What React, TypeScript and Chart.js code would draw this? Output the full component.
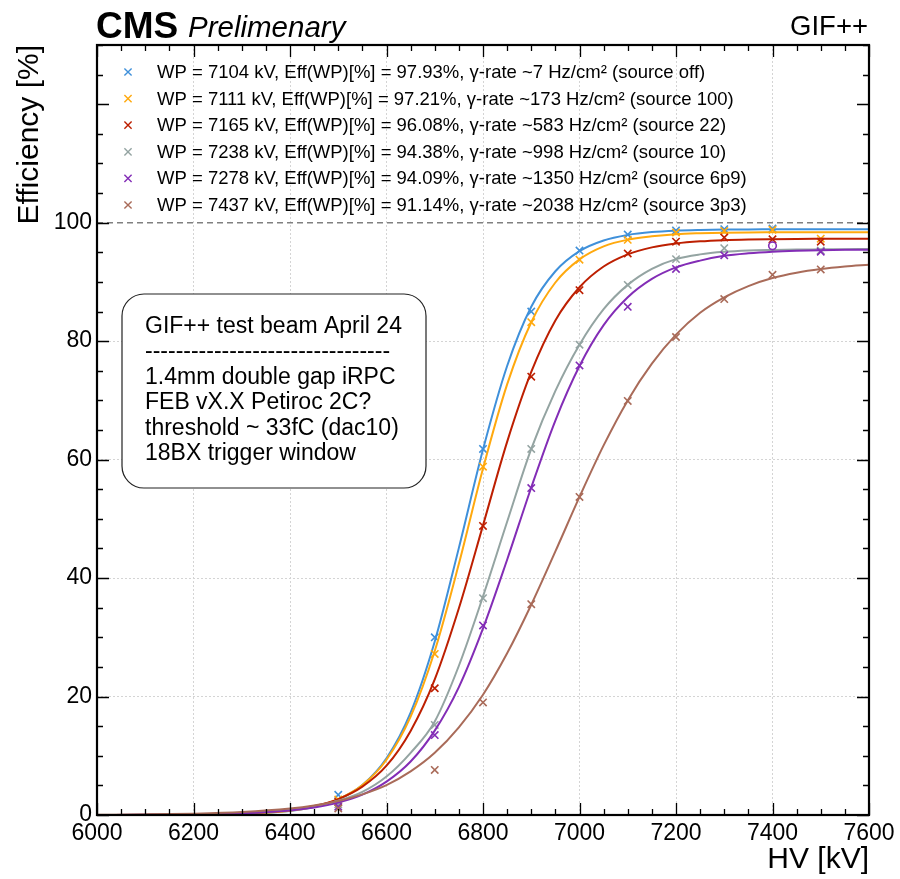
import React, { useEffect, useRef } from 'react';
import { Chart, registerables } from 'chart.js';

Chart.register(...registerables);

const FONT = '"Liberation Sans", Arial, Helvetica, sans-serif';

// ---- measured points (HV in kV, efficiency in %) ----
const hvMeasured = [6500, 6700, 6800, 6900, 7000, 7100, 7200, 7300, 7400, 7500];
const effSourceOff = [3.4, 30.0, 61.8, 85.0, 95.3, 98.0, 98.7, 98.9, 99.0, null];
const effSource100 = [2.6, 27.2, 58.8, 83.2, 93.75, 97.1, 98.35, 98.6, 98.8, 97.3];
const effSource22 = [2.2, 21.4, 48.8, 74.0, 88.6, 94.8, 96.8, 97.5, 97.2, 96.8];
const effSource10 = [1.8, 15.2, 36.6, 61.8, 79.4, 89.5, 93.85, 95.7, null, 95.3];
const effSource6p9 = [1.4, 13.5, 32.0, 55.2, 75.9, 85.8, 92.2, 94.5, 96.1, 95.1];
const effSource3p3 = [1.1, 7.6, 19.0, 35.6, 53.7, 69.9, 80.7, 87.1, 91.2, 92.1];
const circleMarkerHV6p9 = 7400;

// ---- fitted sigmoid curves ----
const hvFit = [6000, 6100, 6200, 6300, 6400, 6450, 6500, 6550, 6600, 6650, 6700, 6750, 6800, 6850, 6900, 6950, 7000, 7050, 7100, 7150, 7200, 7250, 7300, 7350, 7400, 7450, 7500, 7550, 7600];
const fitSourceOff = [0.003, 0.011, 0.044, 0.174, 0.68, 1.34, 2.63, 5.07, 9.59, 17.3, 29.3, 45.1, 61.7, 75.8, 85.8, 91.8, 95.2, 97.0, 97.93, 98.41, 98.65, 98.77, 98.84, 98.87, 98.88, 98.89, 98.9, 98.9, 98.9];
const fitSource100 = [0.004, 0.014, 0.052, 0.196, 0.73, 1.4, 2.67, 5.04, 9.33, 16.6, 27.7, 42.4, 58.5, 72.7, 83.2, 89.9, 93.8, 96.0, 97.14, 97.7, 98.06, 98.22, 98.31, 98.36, 98.38, 98.39, 98.4, 98.4, 98.4];
const fitSource22 = [0.007, 0.024, 0.078, 0.255, 0.83, 1.51, 2.69, 4.79, 8.32, 14.2, 22.9, 34.9, 48.9, 63.0, 74.8, 83.5, 89.1, 92.6, 94.66, 95.83, 96.48, 96.85, 97.05, 97.16, 97.22, 97.26, 97.28, 97.29, 97.3];
const fitSource10 = [0.012, 0.035, 0.1, 0.3, 0.88, 1.45, 2.4, 3.9, 6.5, 10.5, 15.8, 25.2, 36.9, 49.5, 61.8, 71.6, 79.4, 85.4, 89.5, 92.2, 93.85, 94.65, 95.08, 95.3, 95.4, 95.47, 95.5, 95.53, 95.55];
const fitSource6p9 = [0.012, 0.035, 0.097, 0.27, 0.76, 1.26, 2.09, 3.43, 5.63, 9.03, 14.25, 21.6, 31.5, 43.1, 55.3, 66.6, 75.8, 82.7, 87.4, 90.5, 92.45, 93.6, 94.4, 94.83, 95.1, 95.26, 95.36, 95.42, 95.45];
const fitSource3p3 = [0.047, 0.103, 0.226, 0.5, 1.09, 1.61, 2.37, 3.49, 5.05, 7.36, 10.5, 14.8, 20.3, 27.3, 35.5, 44.5, 53.7, 62.4, 70.0, 76.2, 81.1, 84.8, 87.4, 89.3, 90.65, 91.56, 92.18, 92.6, 92.9];

const seriesLabels = [
  'WP = 7104 kV, Eff(WP)[%] = 97.93%, γ-rate ~7 Hz/cm² (source off)',
  'WP = 7111 kV, Eff(WP)[%] = 97.21%, γ-rate ~173 Hz/cm² (source 100)',
  'WP = 7165 kV, Eff(WP)[%] = 96.08%, γ-rate ~583 Hz/cm² (source 22)',
  'WP = 7238 kV, Eff(WP)[%] = 94.38%, γ-rate ~998 Hz/cm² (source 10)',
  'WP = 7278 kV, Eff(WP)[%] = 94.09%, γ-rate ~1350 Hz/cm² (source 6p9)',
  'WP = 7437 kV, Eff(WP)[%] = 91.14%, γ-rate ~2038 Hz/cm² (source 3p3)',
];
const seriesColors = ['#3f90da', '#ffa90e', '#bd1f01', '#94a4a2', '#832db6', '#a96b59'];
const measuredSeries = [effSourceOff, effSource100, effSource22, effSource10, effSource6p9, effSource3p3];
const fitSeries = [fitSourceOff, fitSource100, fitSource22, fitSource10, fitSource6p9, fitSource3p3];

const xMin = 6000;
const xMax = 7600;
const xMajorStep = 200;
const xMinorStep = 50;
const yMin = 0;
const yMax = 130;
const yMajorStep = 20;
const yMinorStep = 5;
const yLabelMax = 100;
const referenceLine = 100;

const infoLines = [
  'GIF++ test beam April 24',
  '--------------------------------',
  '1.4mm double gap iRPC',
  'FEB vX.X Petiroc 2C?',
  'threshold ~ 33fC (dac10)',
  '18BX trigger window',
];

const decorPlugin = {
  id: 'decor',
  beforeDatasetsDraw(chart: any) {
    const { ctx, chartArea: a, scales } = chart;
    const yr = scales.y.getPixelForValue(referenceLine);
    ctx.save();
    ctx.strokeStyle = '#808080';
    ctx.lineWidth = 1.5;
    ctx.setLineDash([6, 4]);
    ctx.beginPath();
    ctx.moveTo(a.left, yr);
    ctx.lineTo(a.right, yr);
    ctx.stroke();
    ctx.restore();
  },
  afterDatasetsDraw(chart: any) {
    const { ctx, chartArea: a, scales } = chart;
    ctx.save();
    // ticks (inside, all four sides)
    ctx.strokeStyle = '#000';
    ctx.lineWidth = 1.3;
    ctx.beginPath();
    for (let v = xMin; v <= xMax; v += xMinorStep) {
      const px = Math.round(scales.x.getPixelForValue(v)) + 0.5;
      const len = v % xMajorStep === 0 ? 12 : 6;
      ctx.moveTo(px, a.bottom);
      ctx.lineTo(px, a.bottom - len);
      ctx.moveTo(px, a.top);
      ctx.lineTo(px, a.top + len);
    }
    for (let v = yMin; v <= yMax; v += yMinorStep) {
      const py = Math.round(scales.y.getPixelForValue(v)) + 0.5;
      const len = v % yMajorStep === 0 ? 12 : 6;
      ctx.moveTo(a.left, py);
      ctx.lineTo(a.left + len, py);
      ctx.moveTo(a.right, py);
      ctx.lineTo(a.right - len, py);
    }
    ctx.stroke();
    // frame
    ctx.lineWidth = 2.2;
    ctx.strokeRect(a.left, a.top, a.right - a.left, a.bottom - a.top);

    // legend
    ctx.font = `18.5px ${FONT}`;
    ctx.textBaseline = 'middle';
    ctx.textAlign = 'left';
    seriesLabels.forEach((label, i) => {
      const y = 72 + i * 26.6;
      const mx = 128;
      const r = 3.6;
      ctx.strokeStyle = seriesColors[i];
      ctx.lineWidth = 1.4;
      ctx.beginPath();
      ctx.moveTo(mx - r, y - r);
      ctx.lineTo(mx + r, y + r);
      ctx.moveTo(mx - r, y + r);
      ctx.lineTo(mx + r, y - r);
      ctx.stroke();
      ctx.fillStyle = '#000';
      ctx.fillText(label, 157, y + 1);
    });

    // info box
    const bx = 122, by = 294, bw = 304, bh = 194, br = 22;
    ctx.beginPath();
    ctx.moveTo(bx + br, by);
    ctx.arcTo(bx + bw, by, bx + bw, by + bh, br);
    ctx.arcTo(bx + bw, by + bh, bx, by + bh, br);
    ctx.arcTo(bx, by + bh, bx, by, br);
    ctx.arcTo(bx, by, bx + bw, by, br);
    ctx.closePath();
    ctx.fillStyle = '#ffffff';
    ctx.fill();
    ctx.strokeStyle = '#222';
    ctx.lineWidth = 1.2;
    ctx.stroke();
    ctx.fillStyle = '#000';
    ctx.font = `23px ${FONT}`;
    ctx.textBaseline = 'alphabetic';
    infoLines.forEach((t, i) => {
      ctx.fillText(t, 145, 333 + i * 25.4);
    });
    ctx.restore();
  },
  afterDraw(chart: any) {
    const { ctx } = chart;
    ctx.save();
    ctx.fillStyle = '#000';
    ctx.textBaseline = 'alphabetic';
    ctx.textAlign = 'left';
    ctx.font = `bold 37px ${FONT}`;
    ctx.fillText('CMS', 96, 38);
    ctx.font = `italic 29.5px ${FONT}`;
    ctx.fillText('Prelimenary', 188, 37);
    ctx.textAlign = 'right';
    ctx.font = `27.5px ${FONT}`;
    ctx.fillText('GIF++', 868, 35);
    ctx.restore();
  },
};

export default function App() {
  const canvasRef = useRef<HTMLCanvasElement | null>(null);

  useEffect(() => {
    const canvas = canvasRef.current;
    if (!canvas) return;
    const datasets: any[] = [];
    let order = 1000;
    fitSeries.forEach((fit, i) => {
      const color = seriesColors[i];
      datasets.push({
        label: seriesLabels[i] + ' fit',
        data: hvFit.map((x, k) => ({ x, y: fit[k] })),
        showLine: true,
        borderColor: color,
        borderWidth: 2,
        pointRadius: 0,
        cubicInterpolationMode: 'monotone',
        order: order--,
      });
      const meas = measuredSeries[i];
      const pts = hvMeasured
        .map((x, k) => ({ x, y: meas[k] }))
        .filter((p) => p.y !== null);
      const isPurple = i === 4;
      datasets.push({
        label: seriesLabels[i],
        data: pts,
        showLine: false,
        borderColor: color,
        backgroundColor: 'rgba(0,0,0,0)',
        pointStyle: (c: any) =>
          isPurple && c.raw && c.raw.x === circleMarkerHV6p9 ? 'circle' : 'crossRot',
        pointRadius: (c: any) =>
          isPurple && c.raw && c.raw.x === circleMarkerHV6p9 ? 3.8 : 5.2,
        pointBorderWidth: 1.6,
        order: order--,
      });
    });

    const chart = new Chart(canvas, {
      type: 'scatter',
      data: { datasets },
      options: {
        animation: false,
        responsive: false,
        devicePixelRatio: 1,
        layout: { padding: { left: 0, top: 45, right: 31, bottom: 0 } },
        plugins: {
          legend: { display: false },
          tooltip: { enabled: false },
        },
        scales: {
          x: {
            type: 'linear',
            min: xMin,
            max: xMax,
            ticks: {
              stepSize: xMinorStep,
              autoSkip: false,
              maxRotation: 0,
              minRotation: 0,
              color: '#000',
              padding: 5,
              font: { family: FONT, size: 23 },
              callback: (v: any) => (Number(v) % xMajorStep === 0 ? String(v) : ''),
            },
            grid: {
              drawTicks: false,
              lineWidth: 1,
              color: (c: any) =>
                c.tick && c.tick.value % xMajorStep === 0 && c.tick.value > xMin && c.tick.value < xMax
                  ? '#d4d4d4'
                  : 'rgba(0,0,0,0)',
            },
            border: { display: false, dash: [2, 2] },
            title: {
              display: true,
              text: 'HV [kV]',
              align: 'end',
              color: '#000',
              font: { family: FONT, size: 30 },
              padding: { top: 0, bottom: 1 },
            },
            afterFit: (s: any) => {
              s.height = 64;
              s.paddingLeft = 0;
              s.paddingRight = 0;
            },
          },
          y: {
            type: 'linear',
            min: yMin,
            max: yMax,
            ticks: {
              stepSize: yMinorStep,
              autoSkip: false,
              color: '#000',
              padding: 5,
              font: { family: FONT, size: 23 },
              callback: (v: any) =>
                Number(v) % yMajorStep === 0 && Number(v) <= yLabelMax ? String(v) : '',
            },
            grid: {
              drawTicks: false,
              lineWidth: 1,
              color: (c: any) =>
                c.tick && c.tick.value % yMajorStep === 0 && c.tick.value > yMin && c.tick.value < yLabelMax
                  ? '#d4d4d4'
                  : 'rgba(0,0,0,0)',
            },
            border: { display: false, dash: [2, 2] },
            title: {
              display: true,
              text: 'Efficiency [%]',
              align: 'end',
              color: '#000',
              font: { family: FONT, size: 30 },
              padding: { top: 12, bottom: 0 },
            },
            afterFit: (s: any) => {
              s.width = 97;
              s.paddingTop = 0;
              s.paddingBottom = 0;
            },
          },
        },
      } as any,
      plugins: [decorPlugin],
    });
    return () => chart.destroy();
  }, []);

  return (
    <div style={{ position: 'fixed', left: 0, top: 0, width: 900, height: 879, background: '#fff' }}>
      <canvas ref={canvasRef} width={900} height={879} style={{ display: 'block' }} />
    </div>
  );
}
